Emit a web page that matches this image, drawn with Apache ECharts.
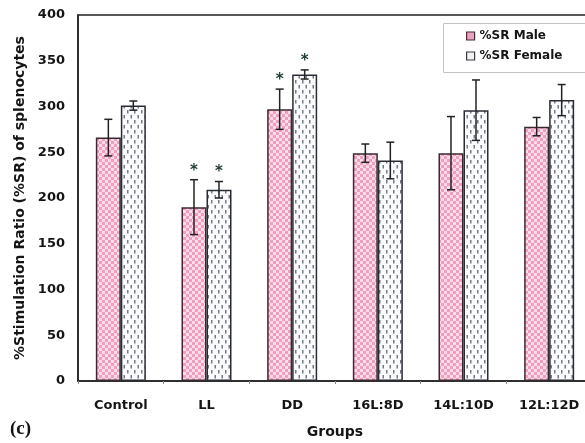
<!DOCTYPE html>
<html>
<head>
<meta charset="utf-8">
<script src="https://cdn.jsdelivr.net/npm/echarts@6/dist/echarts.min.js"></script>
<style>
  html, body { margin: 0; padding: 0; background: #fff; }
  #chart { width: 585px; height: 443px; }
</style>
</head>
<body>
<div id="chart"></div>
<script>
// Stimulation ratio of splenocytes by photoperiod group
var groups = ['Control', 'LL', 'DD', '16L:8D', '14L:10D', '12L:12D'];
var maleSR = [266, 190, 297, 249, 249, 278];
var maleErr = [20, 30, 22, 10, 40, 10];
var femaleSR = [301, 209, 335, 241, 296, 307];
var femaleErr = [5, 9, 5, 20, 33, 17];
var maleSig = [0, 1, 1, 0, 0, 0];
var femaleSig = [0, 1, 1, 0, 0, 0];
var yTicks = [0, 50, 100, 150, 200, 250, 300, 350, 400];

var BAR_W = 25;
var FONT = 'DejaVu Sans, Verdana, sans-serif';

// fill textures for the two series
function malePattern() {
  var c = document.createElement('canvas');
  c.width = 6; c.height = 6;
  var g = c.getContext('2d');
  g.fillStyle = '#fcdce8';
  g.fillRect(0, 0, 6, 6);
  g.fillStyle = '#f09ec0';
  g.fillRect(0, 0, 3, 3);
  g.fillRect(3, 3, 3, 3);
  return c;
}
function femalePattern() {
  var c = document.createElement('canvas');
  c.width = 7; c.height = 10;
  var g = c.getContext('2d');
  g.fillStyle = '#fbfbfd';
  g.fillRect(0, 0, 7, 10);
  g.fillStyle = '#737a8a';
  g.fillRect(1, 0, 1.5, 3.5);
  g.fillRect(4.5, 5, 1.5, 3.5);
  return c;
}

function errorData(vals, errs, sig) {
  return vals.map(function (v, i) { return [i, v - errs[i], v + errs[i], sig[i]]; });
}

function errorRenderer(offset) {
  return function (params, api) {
    var i = api.value(0);
    var lo = api.coord([i, api.value(1)]);
    var hi = api.coord([i, api.value(2)]);
    var x = lo[0] + offset;
    var cap = 4;
    var style = { stroke: '#222', lineWidth: 1.5 };
    var children = [
      { type: 'line', shape: { x1: x, y1: lo[1], x2: x, y2: hi[1] }, style: style },
      { type: 'line', shape: { x1: x - cap, y1: lo[1], x2: x + cap, y2: lo[1] }, style: style },
      { type: 'line', shape: { x1: x - cap, y1: hi[1], x2: x + cap, y2: hi[1] }, style: style }
    ];
    if (api.value(3)) {
      children.push({
        type: 'text',
        style: {
          x: x, y: hi[1] - 9, text: '*', align: 'center', verticalAlign: 'middle',
          font: 'bold 15px ' + FONT, fill: '#1d3a34'
        }
      });
    }
    return { type: 'group', children: children };
  };
}

var labelStyle = { fontFamily: FONT, fontWeight: 'bold', fontSize: 13, color: '#151515' };

var chart = echarts.init(document.getElementById('chart'));
chart.setOption({
  animation: false,
  backgroundColor: '#fff',
  // plot area runs a little past the right edge of the canvas
  grid: {
    left: 78, right: -7, top: 15, bottom: 62,
    outerBoundsMode: 'none', containLabel: false,
    show: true, borderColor: '#222', borderWidth: 1.5
  },
  legend: {
    orient: 'vertical',
    left: 443, top: 23,
    padding: [7, 10, 8, 23],
    itemGap: 8,
    itemWidth: 8, itemHeight: 8,
    icon: 'rect',
    textStyle: { fontFamily: FONT, fontWeight: 'bold', fontSize: 12, color: '#151515' },
    data: [
      { name: '%SR Male', itemStyle: { color: '#eaa3bf', borderColor: '#4a2a38', borderWidth: 1.2 } },
      { name: '%SR Female', itemStyle: { color: '#f2f2f5', borderColor: '#3a3a40', borderWidth: 1.2 } }
    ]
  },
  xAxis: {
    type: 'category',
    data: groups,
    name: 'Groups',
    nameLocation: 'middle',
    nameGap: 44,
    nameTextStyle: { fontFamily: FONT, fontWeight: 'bold', fontSize: 14, color: '#151515' },
    axisLine: { lineStyle: { color: '#222', width: 1.5 } },
    axisTick: { show: true, length: 3, lineStyle: { color: '#888' } },
    axisLabel: Object.assign({ margin: 18 }, labelStyle)
  },
  yAxis: {
    type: 'value',
    min: yTicks[0], max: yTicks[yTicks.length - 1], interval: 50,
    name: '%Stimulation Ratio (%SR) of splenocytes',
    nameLocation: 'middle',
    nameGap: 51,
    nameTextStyle: { fontFamily: FONT, fontWeight: 'bold', fontSize: 14, color: '#151515' },
    axisLine: { show: true, lineStyle: { color: '#222', width: 1.5 } },
    axisTick: { show: false },
    splitLine: { show: false },
    axisLabel: Object.assign({ margin: 13 }, labelStyle)
  },
  series: [
    {
      name: '%SR Male', type: 'bar', data: maleSR, barWidth: BAR_W, barGap: '0%',
      itemStyle: { color: { image: malePattern(), repeat: 'repeat' }, borderColor: '#3a2a30', borderWidth: 1.5 }
    },
    {
      name: '%SR Female', type: 'bar', data: femaleSR, barWidth: BAR_W, barGap: '0%',
      itemStyle: { color: { image: femalePattern(), repeat: 'repeat' }, borderColor: '#2a2c33', borderWidth: 1.5 }
    },
    {
      type: 'custom', data: errorData(maleSR, maleErr, maleSig), renderItem: errorRenderer(-BAR_W / 2),
      encode: { x: 0, y: [1, 2] }, z: 5, silent: true
    },
    {
      type: 'custom', data: errorData(femaleSR, femaleErr, femaleSig), renderItem: errorRenderer(BAR_W / 2),
      encode: { x: 0, y: [1, 2] }, z: 5, silent: true
    }
  ],
  graphic: [
    {
      // legend frame, running off the right edge
      type: 'rect', z: 1,
      shape: { x: 443.5, y: 23.5, width: 170, height: 49 },
      style: { fill: '#fff', stroke: '#c4c4c4', lineWidth: 1 }
    },
    {
      type: 'text', left: 10, top: 420,
      style: { text: '(c)', font: 'bold 19px Liberation Serif, Times New Roman, serif', fill: '#151515' }
    }
  ]
});
</script>
</body>
</html>
